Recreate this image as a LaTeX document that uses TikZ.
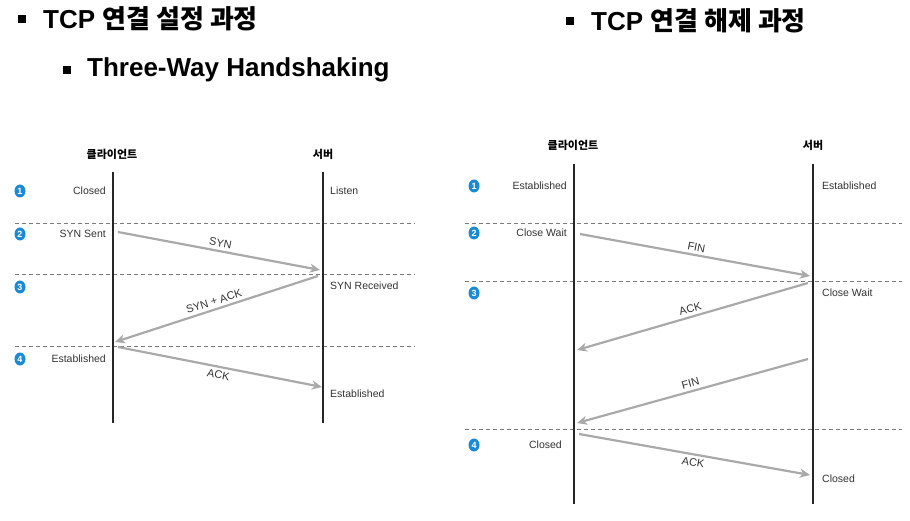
\documentclass[tikz,border=0pt]{standalone}
\usepackage{fontspec}
\setmainfont{Liberation Sans}
\newfontfamily\kr{Noto Sans CJK KR}
\usetikzlibrary{arrows.meta, positioning, shapes.geometric}
\definecolor{step-blue}{HTML}{1A8AD4}
\definecolor{msg-gray}{HTML}{A9A9A9}
\definecolor{life-black}{HTML}{262626}
\definecolor{sep-gray}{HTML}{7A7A7A}
\definecolor{state-text}{HTML}{333333}

\begin{document}
\begin{tikzpicture}[
    x=1pt, y=-1pt,
    title/.style={anchor=west, inner sep=0pt, font=\fontsize{26}{30}\selectfont\bfseries},
    bullet/.style={fill=black, minimum size=8pt, inner sep=0pt},
    head/.style={inner sep=0pt, font=\kr\fontsize{11}{13}\selectfont\bfseries},
    lifeline/.style={draw=life-black, line width=2.4pt},
    sepline/.style={draw=sep-gray, dash pattern=on 4pt off 3pt, line width=0.8pt},
    stepnum/.style={ellipse, fill=step-blue, text=white, minimum width=11pt, minimum height=13pt, inner sep=0pt, font=\fontsize{9}{9}\selectfont\bfseries},
    lstate/.style={anchor=east, inner sep=0pt, text=state-text, font=\fontsize{10.5}{12}\selectfont},
    rstate/.style={anchor=west, inner sep=0pt, text=state-text, font=\fontsize{10.5}{12}\selectfont},
    msg/.style={draw=msg-gray, line width=2.2pt, -{Stealth[length=10pt, width=9pt, inset=3pt]}},
    msglabel/.style={sloped, inner sep=3pt, text=state-text, font=\fontsize{11}{12}\selectfont}
]
    \useasboundingbox (0,0) rectangle (910,521);

    % --- Titles ---
    \node (open_mark) [bullet] at (22,19) {};
    \node (open_title) [title] at (43,19) {TCP {\kr 연결 설정 과정}};
    \node (hs_mark) [bullet] at (67,70) {};
    \node (hs_title) [title] at (87,70) {Three-Way Handshaking};
    \node (close_mark) [bullet] at (570,21) {};
    \node (close_title) [title] at (591,21) {TCP {\kr 연결 해제 과정}};

    % --- Connection setup (left) ---
    \node (l_cli) [head] at (112,154) {클라이언트};
    \node (l_srv) [head] at (323,154) {서버};

    \foreach \y [count=\i] in {223,274,346} {
        \coordinate (l_sep\i w) at (15,\y);
        \coordinate (l_sep\i e) at (415,\y);
        \draw [sepline] (l_sep\i w) -- (l_sep\i e);
    }

    \coordinate (l_cli_top) at (113,172);
    \coordinate (l_cli_bot) at (113,423);
    \coordinate (l_srv_top) at (323,172);
    \coordinate (l_srv_bot) at (323,423);
    \draw [lifeline] (l_cli_top) -- (l_cli_bot);
    \draw [lifeline] (l_srv_top) -- (l_srv_bot);

    \foreach \n/\y in {1/191,2/234,3/287,4/359}
        \node (l_step\n) [stepnum] at (20,\y) {\n};

    \node (l_closed) [lstate] at (106,191) {Closed};
    \node (l_synsent) [lstate] at (106,234) {SYN Sent};
    \node (l_est) [lstate] at (106,359) {Established};
    \node (l_listen) [rstate] at (330,191) {Listen};
    \node (l_synrcvd) [rstate] at (330,286) {SYN Received};
    \node (l_est_srv) [rstate] at (330,394) {Established};

    \coordinate (l_syn_a) at (118,232);
    \coordinate (l_syn_b) at (320,270);
    \coordinate (l_synack_a) at (318,276);
    \coordinate (l_synack_b) at (115,342);
    \coordinate (l_ack_a) at (118,347);
    \coordinate (l_ack_b) at (322,387);
    \draw [msg] (l_syn_a) -- node [msglabel, above] {SYN} (l_syn_b);
    \draw [msg] (l_synack_a) -- node [msglabel, above] {SYN + ACK} (l_synack_b);
    \draw [msg] (l_ack_a) -- node [msglabel, below] {ACK} (l_ack_b);

    % --- Connection teardown (right) ---
    \node (r_cli) [head] at (573,145) {클라이언트};
    \node (r_srv) [head] at (813,145) {서버};

    \foreach \y [count=\i] in {223,281,429} {
        \coordinate (r_sep\i w) at (465,\y);
        \coordinate (r_sep\i e) at (902,\y);
        \draw [sepline] (r_sep\i w) -- (r_sep\i e);
    }

    \coordinate (r_cli_top) at (574,164);
    \coordinate (r_cli_bot) at (574,504);
    \coordinate (r_srv_top) at (813,164);
    \coordinate (r_srv_bot) at (813,504);
    \draw [lifeline] (r_cli_top) -- (r_cli_bot);
    \draw [lifeline] (r_srv_top) -- (r_srv_bot);

    \foreach \n/\y in {1/186,2/233,3/293,4/445}
        \node (r_step\n) [stepnum] at (474,\y) {\n};

    \node (r_est) [lstate] at (567,186) {Established};
    \node (r_wait) [lstate] at (567,233) {Close Wait};
    \node (r_closed) [lstate] at (562,445) {Closed};
    \node (r_est_srv) [rstate] at (822,186) {Established};
    \node (r_wait_srv) [rstate] at (822,293) {Close Wait};
    \node (r_closed_srv) [rstate] at (822,479) {Closed};

    \coordinate (r_fin_a) at (580,234);
    \coordinate (r_fin_b) at (810,276);
    \coordinate (r_ack_a) at (808,283);
    \coordinate (r_ack_b) at (577,350);
    \coordinate (r_fin2_a) at (808,359);
    \coordinate (r_fin2_b) at (577,423);
    \coordinate (r_ack2_a) at (579,434);
    \coordinate (r_ack2_b) at (810,475);
    \draw [msg] (r_fin_a) -- node [msglabel, above] {FIN} (r_fin_b);
    \draw [msg] (r_ack_a) -- node [msglabel, above] {ACK} (r_ack_b);
    \draw [msg] (r_fin2_a) -- node [msglabel, above] {FIN} (r_fin2_b);
    \draw [msg] (r_ack2_a) -- node [msglabel, below] {ACK} (r_ack2_b);

\end{tikzpicture}
\end{document}
